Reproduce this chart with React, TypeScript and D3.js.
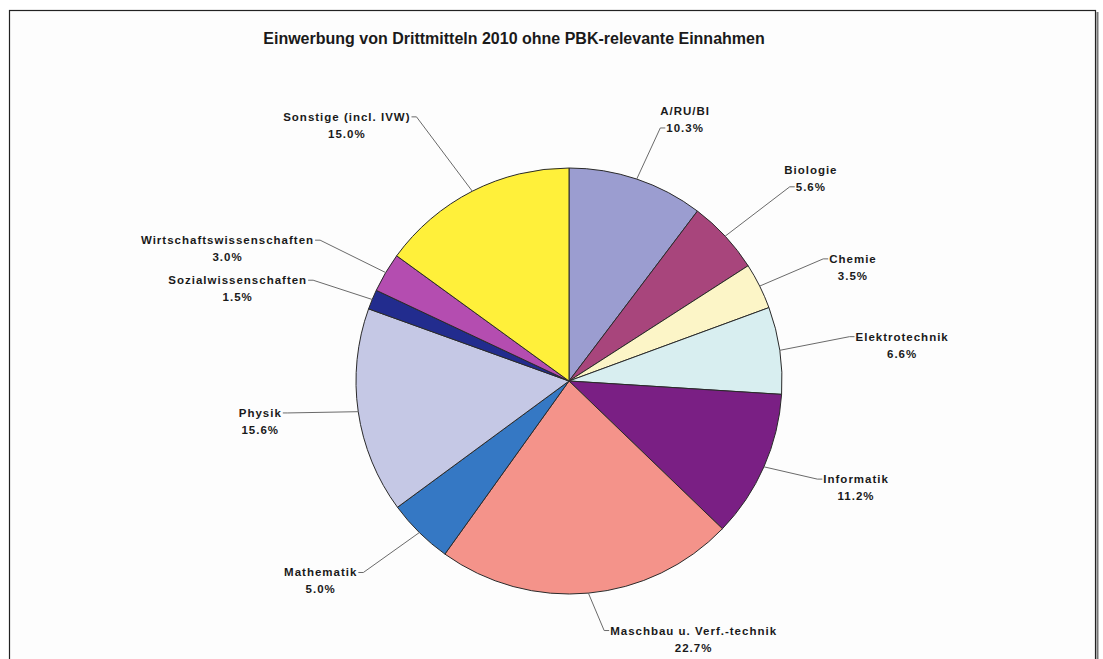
import React, { useEffect, useRef } from "react";
import * as d3 from "d3";

const title = "Einwerbung von Drittmitteln 2010 ohne PBK-relevante Einnahmen";
const categories = [
  "A/RU/BI",
  "Biologie",
  "Chemie",
  "Elektrotechnik",
  "Informatik",
  "Maschbau u. Verf.-technik",
  "Mathematik",
  "Physik",
  "Sozialwissenschaften",
  "Wirtschaftswissenschaften",
  "Sonstige (incl. IVW)",
];
const shares = [10.3, 5.6, 3.5, 6.6, 11.2, 22.7, 5.0, 15.6, 1.5, 3.0, 15.0];
const colors = [
  "#9B9DD0",
  "#A8457C",
  "#FCF5C7",
  "#D8EEF0",
  "#7A1F84",
  "#F4938A",
  "#3578C4",
  "#C5C8E5",
  "#222C8E",
  "#B44DB0",
  "#FFF03A",
];
// label layout: leader elbow radius, angle adjustment (deg), which text line the leader attaches to
const labelRadius = [269, 294, 282, 284, 267, 252, 281, 283, 275, 286, 305];
const labelAngleAdj = [1.3, 1.5, 0.8, -0.7, -2.2, -2.8, 2.4, 1.8, -1.0, -1.1, -3.0];
const labelAttachLine = [1, 1, 0, 0, 0, 0, 0, 0, 0, 0, 0];

const W = 1103;
const H = 659;
const cx = 569;
const cy = 381;
const R = 213;

export default function App() {
  const ref = useRef<SVGSVGElement | null>(null);

  useEffect(() => {
    const svg = d3.select(ref.current);
    svg.selectAll("*").remove();

    svg
      .append("rect")
      .attr("x", 0)
      .attr("y", 0)
      .attr("width", W)
      .attr("height", H)
      .attr("fill", "#ffffff");
    svg
      .append("line")
      .attr("x1", 1097.5)
      .attr("x2", 1097.5)
      .attr("y1", 12)
      .attr("y2", H)
      .attr("stroke", "#777")
      .attr("stroke-width", 2);
    svg
      .append("rect")
      .attr("x", 9.5)
      .attr("y", 10.5)
      .attr("width", 1086)
      .attr("height", 700)
      .attr("fill", "#fdfdfd")
      .attr("stroke", "#222")
      .attr("stroke-width", 1.2);

    svg
      .append("text")
      .attr("x", 514)
      .attr("y", 44)
      .attr("text-anchor", "middle")
      .attr("font-family", "Liberation Sans, Arial, sans-serif")
      .attr("font-weight", "bold")
      .attr("font-size", 16)
      .attr("fill", "#1a1a1a")
      .text(title);

    const data = categories.map((c, i) => ({ name: c, value: shares[i], i }));
    const pie = d3
      .pie<any>()
      .value((d) => d.value)
      .sort(null)
      .startAngle(0)
      .endAngle(2 * Math.PI);
    const arcs = pie(data);
    const arc = d3.arc<any>().innerRadius(0).outerRadius(R);

    const g = svg.append("g").attr("transform", `translate(${cx},${cy})`);
    g.selectAll("path")
      .data(arcs)
      .enter()
      .append("path")
      .attr("d", arc as any)
      .attr("fill", (d: any) => colors[d.data.i])
      .attr("stroke", "#2a2a2a")
      .attr("stroke-width", 1);

    const lineH = 17;
    arcs.forEach((a: any) => {
      const i = a.data.i;
      const mid = (a.startAngle + a.endAngle) / 2;
      const px = Math.sin(mid) * R;
      const py = -Math.cos(mid) * R;
      const la = mid + (labelAngleAdj[i] * Math.PI) / 180;
      const ex = Math.sin(la) * labelRadius[i];
      const ey = -Math.cos(la) * labelRadius[i];
      const right = ex > 0;
      const hx = ex + (right ? 5 : -5);
      g.append("path")
        .attr("d", `M${px},${py}L${ex},${ey}L${hx},${ey}`)
        .attr("fill", "none")
        .attr("stroke", "#6a6a6a")
        .attr("stroke-width", 1);

      const lines = [a.data.name, `${a.data.value.toFixed(1)}%`];
      const tg = g.append("g");
      const texts = lines.map((t) =>
        tg
          .append("text")
          .attr("font-family", "Liberation Sans, Arial, sans-serif")
          .attr("font-weight", "bold")
          .attr("font-size", 11.5)
          .attr("letter-spacing", 1)
          .attr("fill", "#1a1a1a")
          .attr("text-anchor", "middle")
          .text(t)
      );
      const widths = texts.map((t) => (t.node() as SVGTextElement).getComputedTextLength());
      const attach = labelAttachLine[i];
      const aw = widths[attach];
      const centerX = right ? hx + 1 + aw / 2 : hx - 1 - aw / 2;
      const firstY = ey - attach * lineH;
      texts.forEach((t, k) => {
        t.attr("x", centerX).attr("y", firstY + k * lineH + 4);
      });
    });
  }, []);

  return (
    <svg
      ref={ref}
      width={W}
      height={H}
      style={{ position: "absolute", left: 0, top: 0, display: "block" }}
    />
  );
}
